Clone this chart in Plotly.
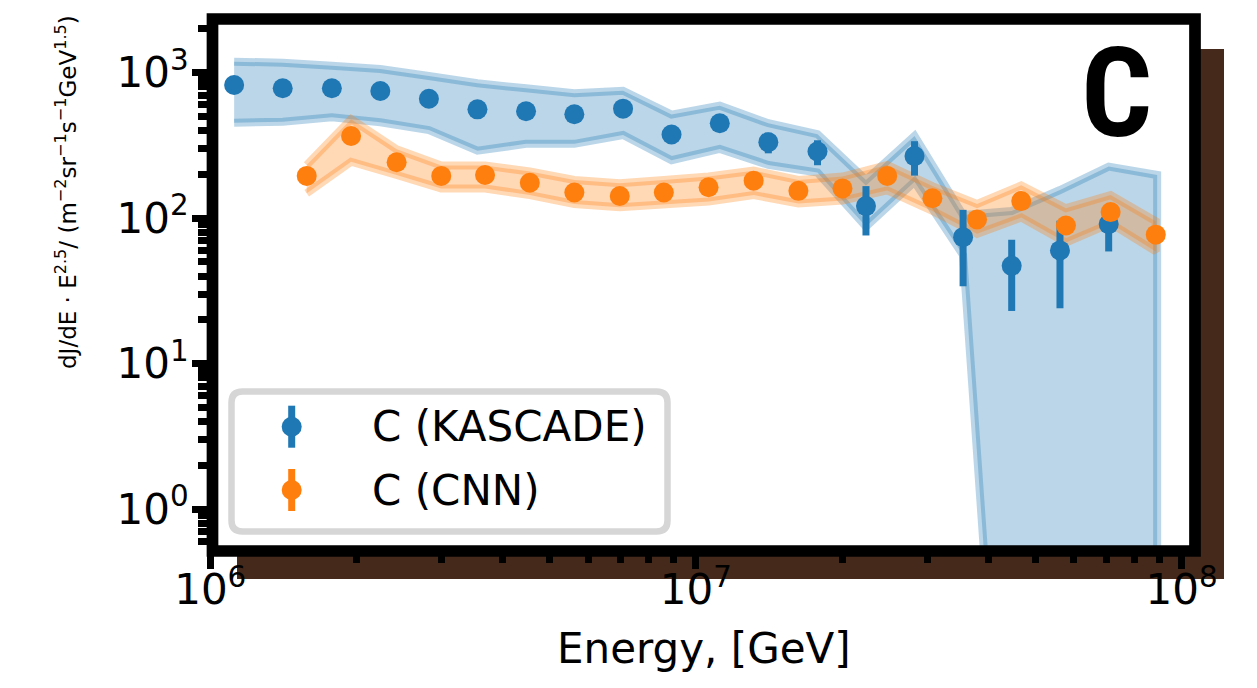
import plotly.graph_objects as go

# ---------------- data ----------------
kascade_energy = [1.12e6, 1.41e6, 1.78e6, 2.24e6, 2.82e6, 3.55e6, 4.47e6, 5.62e6, 7.08e6, 8.91e6,
                  1.12e7, 1.41e7, 1.78e7, 2.24e7, 2.82e7, 3.55e7, 4.47e7, 5.62e7, 7.08e7, 8.91e7]
kascade_flux = [823, 782, 782, 748, 662, 560, 543, 518, 566, 376,
                449, 333, 287, 121, 267, 74, 47, 60, 91, None]
kascade_err = [40, 38, 38, 36, 32, 28, 27, 26, 30, 25,
               35, 54, 56, 45, 71, 40, 24, 36, 32, None]
kascade_band_lo = [453, 460, 493, 456, 403, 291, 324, 324, 373, 250,
                   299, 232, 206, 87.5, 178, 55.7, 0.001, 0.001, 0.001, 0.001]
kascade_band_hi = [1190, 1172, 1117, 1060, 949, 845, 781, 722, 752, 515,
                   593, 449, 378, 183, 367, 105, 112, 156, 226, 198]

cnn_energy = [1.58e6, 1.95e6, 2.42e6, 2.99e6, 3.68e6, 4.55e6, 5.62e6, 6.97e6, 8.59e6, 1.062e7,
              1.315e7, 1.626e7, 2.004e7, 2.477e7, 3.069e7, 3.793e7, 4.677e7, 5.781e7, 7.145e7, 8.851e7]
cnn_flux = [195, 367, 242, 195, 198, 175, 150, 142, 150, 163,
            181, 154, 160, 195, 137, 98, 131, 89, 110, 77]
cnn_err = [12, 22, 15, 12, 12, 11, 9, 9, 9, 10,
           11, 9, 10, 12, 8, 6, 8, 5, 7, 5]
cnn_band_lo = [148, 244, 198, 160, 160, 144, 125, 119, 123, 130,
               144, 126, 132, 155, 112, 78, 101, 68, 92, 59]
cnn_band_hi = [232, 479, 297, 230, 230, 209, 183, 174, 183, 193,
               212, 183, 193, 232, 166, 125, 168, 117, 144, 95]

x_tick_vals = [1e6, 1e7, 1e8]
x_tick_text = ["10<sup>6</sup>", "10<sup>7</sup>", "10<sup>8</sup>"]
y_tick_vals = [1, 10, 100, 1000]
y_tick_text = ["10<sup>0</sup>", "10<sup>1</sup>", "10<sup>2</sup>", "10<sup>3</sup>"]

legend_labels = ["C (KASCADE)", "C (CNN)"]
panel_label = "C"
x_title = "Energy, [GeV]"
y_title = ("dJ/dE · E<sup>2.5</sup>/ (m<sup>−2</sup>sr<sup>−1</sup>s<sup>−1</sup>"
           "GeV<sup>1.5</sup>)")

# ---------------- style ----------------
BLUE = "#1f77b4"
ORANGE = "#ff7f0e"
BLUE_A = "rgba(31,119,180,0.3)"
ORANGE_A = "rgba(255,127,14,0.3)"
BROWN = "#45291a"
FONT = "DejaVu Sans"

x_minor = [k * 10 ** d for d in (6, 7) for k in range(2, 10)]
y_minor = [k * 10.0 ** d for d in (-1, 0, 1, 2, 3) for k in range(2, 10)]

fig = go.Figure()

# bands
fig.add_trace(go.Scatter(
    x=kascade_energy + kascade_energy[::-1],
    y=kascade_band_hi + kascade_band_lo[::-1],
    fill="toself", fillcolor=BLUE_A, mode="lines",
    line=dict(color=BLUE_A, width=8), hoverinfo="skip", showlegend=False))
fig.add_trace(go.Scatter(
    x=cnn_energy + cnn_energy[::-1],
    y=cnn_band_hi + cnn_band_lo[::-1],
    fill="toself", fillcolor=ORANGE_A, mode="lines",
    line=dict(color=ORANGE_A, width=8), hoverinfo="skip", showlegend=False))

# points with error bars
fig.add_trace(go.Scatter(
    x=kascade_energy, y=kascade_flux, mode="markers", name=legend_labels[0],
    marker=dict(color=BLUE, size=20),
    error_y=dict(type="data", array=kascade_err, thickness=7, width=0, color=BLUE),
    showlegend=False))
fig.add_trace(go.Scatter(
    x=cnn_energy, y=cnn_flux, mode="markers", name=legend_labels[1],
    marker=dict(color=ORANGE, size=20),
    error_y=dict(type="data", array=cnn_err, thickness=7, width=0, color=ORANGE),
    showlegend=False))

# plot-area pixel helpers (plot area: x 210..1195, y 19..551)
L, R, T, B = 210, 1195, 19, 551
W, H = float(R - L), float(B - T)
def px(x):
    return (x - L) / W
def py(y):
    return (B - y) / H

# legend samples on an overlay [0,1] axis
leg_x = px(291.7)
leg_y = [py(426.7), py(490)]
for col, yy in zip([BLUE, ORANGE], leg_y):
    fig.add_trace(go.Scatter(
        x=[leg_x], y=[yy], xaxis="x2", yaxis="y2", mode="markers",
        marker=dict(color=col, size=20),
        error_y=dict(type="data", array=[21 / H], thickness=7, width=0, color=col),
        hoverinfo="skip", showlegend=False))

axis_common = dict(
    showgrid=False, zeroline=False, showline=False,
    ticks="outside", ticklen=17, tickwidth=7, tickcolor="black",
    tickfont=dict(family=FONT, size=42, color="black"),
)
fig.update_layout(
    width=1257, height=688,
    margin=dict(l=L, r=1257 - R, t=T, b=688 - B, autoexpand=False),
    paper_bgcolor="white", plot_bgcolor="white",
    font=dict(family=FONT, color="black"),
    showlegend=False,
    xaxis=dict(type="log", range=[5.9995, 6 + (R - 209.5) / 486],
               tickmode="array", tickvals=x_tick_vals, ticktext=x_tick_text,
               ticklabelstandoff=-15,
               minor=dict(ticks="outside", ticklen=11, tickwidth=7, tickcolor="black",
                          tickmode="array", tickvals=x_minor),
               **axis_common),
    yaxis=dict(type="log", range=[-0.2887, 3.3691],
               tickmode="array", tickvals=y_tick_vals, ticktext=y_tick_text,
               ticklabelstandoff=-5,
               minor=dict(ticks="outside", ticklen=11, tickwidth=7, tickcolor="black",
                          tickmode="array", tickvals=y_minor),
               **axis_common),
    xaxis2=dict(overlaying="x", anchor="y2", range=[0, 1], visible=False),
    yaxis2=dict(overlaying="y", anchor="x2", range=[0, 1], visible=False),
)

shapes = [
    # brown shadow
    dict(type="rect", xref="paper", yref="paper", layer="below",
         x0=px(237), x1=px(1224), y0=py(579), y1=py(49),
         fillcolor=BROWN, line=dict(width=0)),
    # white plot area
    dict(type="rect", xref="paper", yref="paper", layer="below",
         x0=px(212.5), x1=1, y0=0, y1=1, fillcolor="white", line=dict(width=0)),
]
# legend frame (rounded)
lx0, lx1, ly0, ly1 = px(231.5), px(667.5), py(531.5), py(391.5)
rx, ry = 11 / W, 11 / H
path = (f"M {lx0+rx},{ly1} L {lx1-rx},{ly1} Q {lx1},{ly1} {lx1},{ly1-ry} "
        f"L {lx1},{ly0+ry} Q {lx1},{ly0} {lx1-rx},{ly0} L {lx0+rx},{ly0} "
        f"Q {lx0},{ly0} {lx0},{ly0+ry} L {lx0},{ly1-ry} Q {lx0},{ly1} {lx0+rx},{ly1} Z")
shapes.append(dict(type="path", xref="paper", yref="paper", layer="below", path=path,
                   fillcolor="white", line=dict(color="rgb(214,214,214)", width=6.5)))
# thick frame
shapes.append(dict(type="rect", xref="paper", yref="paper", layer="above",
                   x0=px(212.5), x1=1, y0=0, y1=1, line=dict(color="black", width=11.7)))
fig.update_layout(shapes=shapes)

ann = [
    dict(text=x_title, xref="paper", yref="paper", x=px(704), y=py(648),
         xanchor="center", yanchor="middle", showarrow=False,
         font=dict(family=FONT, size=42, color="black")),
    dict(text=y_title, xref="paper", yref="paper", x=px(66), y=py(192),
         xanchor="center", yanchor="middle", textangle=-90, showarrow=False,
         font=dict(family=FONT, size=23, color="black")),
    dict(text="<b>" + panel_label + "</b>", xref="paper", yref="paper", x=px(1116), y=py(94),
         xanchor="center", yanchor="middle", showarrow=False,
         font=dict(family="Roboto Condensed, Liberation Sans Narrow, Roboto", size=125,
                   color="black")),
]
for lab, yy in zip(legend_labels, leg_y):
    ann.append(dict(text=lab, xref="paper", yref="paper", x=px(370), y=yy,
                    xanchor="left", yanchor="middle", showarrow=False,
                    font=dict(family=FONT, size=42, color="black")))
fig.update_layout(annotations=ann)

fig.write_html("out.html",
               config={"displayModeBar": False},
               post_script="document.body.style.margin='0px';"
                           "document.body.style.overflow='hidden';")
